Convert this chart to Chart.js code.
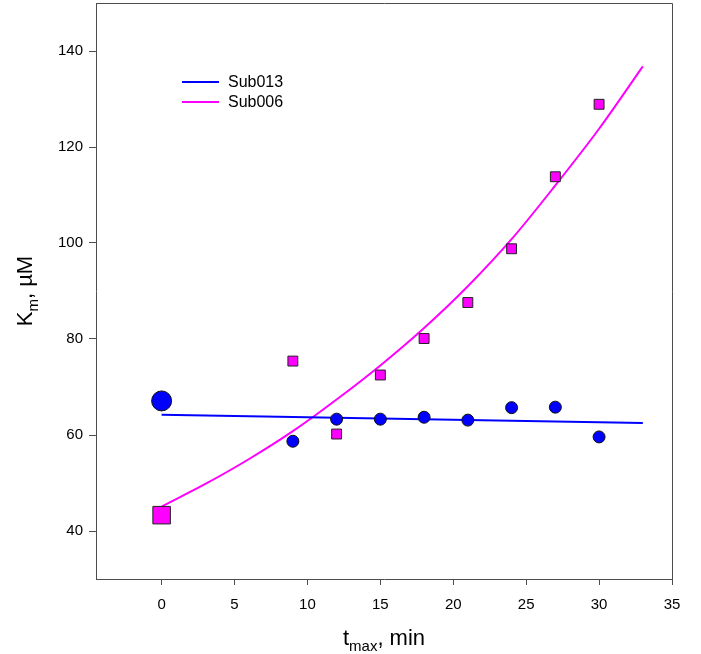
<!DOCTYPE html>
<html>
<head>
<meta charset="utf-8">
<script src="https://cdn.jsdelivr.net/npm/chart.js@4/dist/chart.umd.min.js"></script>
<style>
  html, body { margin: 0; padding: 0; background: #fff; }
  #wrap { width: 701px; height: 654px; }
</style>
</head>
<body>
<div id="wrap"><canvas id="kmChart" width="701" height="654"></canvas></div>
<script>
// Km vs t_max for two substrates, measured points plus fitted curves

const tMax = [0, 9, 12, 15, 18, 21, 24, 27, 30];
const km013 = [67.1, 58.7, 63.3, 63.3, 63.7, 63.1, 65.7, 65.8, 59.6];
const km006 = [43.3, 75.4, 60.2, 72.5, 80.1, 87.6, 98.8, 113.8, 128.9];

// fitted lines
const fitX013 = [0, 33];
const fitY013 = [64.2, 62.5];
const fitX006 = [0, 3, 6, 9, 12, 15, 18, 21, 24, 27, 30, 33];
const fitY006 = [45.1, 49.8, 55.0, 60.8, 67.4, 74.5, 82.3, 91.0, 100.8, 112.0, 123.8, 136.8];

const xTicks = [0, 5, 10, 15, 20, 25, 30, 35];
const yTicks = [40, 60, 80, 100, 120, 140];

const BLUE = "#0000ff";
const MAGENTA = "#ff00ff";
const AXIS = "#4d4d4d";
const FONT = "'Liberation Sans', Arial, sans-serif";

const pts = (xs, ys) => xs.map((x, i) => ({ x, y: ys[i] }));

// first point of each series is drawn larger
const circleSizes = tMax.map((t, i) => (i === 0 ? 10 : 6));
const squareSizes = tMax.map((t, i) => (i === 0 ? 12.4 : 7));

// frame, axis titles with subscripts, legend inside the plot
const decorations = {
  id: "decorations",
  afterDraw(chart) {
    const { ctx, chartArea: a } = chart;
    ctx.save();

    ctx.strokeStyle = AXIS;
    ctx.lineWidth = 1;
    ctx.beginPath();
    ctx.moveTo(a.left + 0.5, a.top + 0.5);
    ctx.lineTo(a.right + 0.5, a.top + 0.5);
    ctx.lineTo(a.right + 0.5, a.bottom);
    ctx.stroke();

    ctx.fillStyle = "#000";
    ctx.textBaseline = "alphabetic";

    // x title: t_max, min
    const big = "22px " + FONT, small = "15px " + FONT;
    ctx.font = big;
    const wT = ctx.measureText("t").width;
    const wRest = ctx.measureText(", min").width;
    ctx.font = small;
    const wSub = ctx.measureText("max").width;
    let x = (a.left + a.right) / 2 - (wT + wSub + wRest) / 2;
    const yb = 645;
    ctx.textAlign = "left";
    ctx.font = big;
    ctx.fillText("t", x, yb);
    x += wT;
    ctx.font = small;
    ctx.fillText("max", x, yb + 6);
    x += wSub;
    ctx.font = big;
    ctx.fillText(", min", x, yb);

    // y title: K_m, µM (rotated)
    ctx.save();
    ctx.translate(32, (a.top + a.bottom) / 2);
    ctx.rotate(-Math.PI / 2);
    ctx.font = big;
    const wK = ctx.measureText("K").width;
    const wR = ctx.measureText(", µM").width;
    ctx.font = small;
    const wM = ctx.measureText("m").width;
    let yx = -(wK + wM + wR) / 2;
    ctx.font = big;
    ctx.fillText("K", yx, 0);
    yx += wK;
    ctx.font = small;
    ctx.fillText("m", yx, 6);
    yx += wM;
    ctx.font = big;
    ctx.fillText(", µM", yx, 0);
    ctx.restore();

    // legend
    const items = [["Sub013", BLUE], ["Sub006", MAGENTA]];
    ctx.font = "16px " + FONT;
    ctx.textBaseline = "middle";
    items.forEach(([label, color], i) => {
      const ly = a.top + 79 + i * 20;
      ctx.strokeStyle = color;
      ctx.lineWidth = 2;
      ctx.beginPath();
      ctx.moveTo(a.left + 86, ly);
      ctx.lineTo(a.left + 123, ly);
      ctx.stroke();
      ctx.fillStyle = "#000";
      ctx.fillText(label, a.left + 132, ly + 1);
    });

    ctx.restore();
  }
};

new Chart(document.getElementById("kmChart"), {
  type: "scatter",
  data: {
    datasets: [
      {
        label: "Sub013",
        data: pts(tMax, km013),
        pointStyle: "circle",
        pointRadius: circleSizes,
        backgroundColor: BLUE,
        borderColor: "#111",
        borderWidth: 1,
        order: 1
      },
      {
        label: "Sub006",
        data: pts(tMax, km006),
        pointStyle: "rect",
        pointRadius: squareSizes,
        backgroundColor: MAGENTA,
        borderColor: "#222",
        borderWidth: 1,
        order: 2
      },
      {
        label: "Sub013 fit",
        data: pts(fitX013, fitY013),
        showLine: true,
        pointRadius: 0,
        borderColor: BLUE,
        borderWidth: 2,
        order: 3
      },
      {
        label: "Sub006 fit",
        data: pts(fitX006, fitY006),
        showLine: true,
        cubicInterpolationMode: "monotone",
        pointRadius: 0,
        borderColor: MAGENTA,
        borderWidth: 2,
        order: 4
      }
    ]
  },
  options: {
    responsive: false,
    animation: false,
    layout: { autoPadding: false, padding: { top: 3, right: 29, left: 0, bottom: 0 } },
    plugins: {
      legend: { display: false },
      tooltip: { enabled: false }
    },
    scales: {
      x: {
        type: "linear",
        min: -4.5,
        max: 35,
        afterBuildTicks: (s) => { s.ticks = xTicks.map(v => ({ value: v })); },
        afterFit: (s) => { s.height = 75; s.paddingLeft = 0; s.paddingRight = 0; },
        grid: { drawOnChartArea: false, tickLength: 6, tickColor: AXIS },
        border: { color: AXIS, width: 1 },
        ticks: { color: "#000", font: { family: FONT, size: 15 }, padding: 11, maxRotation: 0 }
      },
      y: {
        min: 30,
        max: 150,
        afterBuildTicks: (s) => { s.ticks = yTicks.map(v => ({ value: v })); },
        afterFit: (s) => { s.width = 96; s.paddingTop = 0; s.paddingBottom = 0; },
        grid: { drawOnChartArea: false, tickLength: 7, tickColor: AXIS },
        border: { color: AXIS, width: 1 },
        ticks: { color: "#000", font: { family: FONT, size: 15 }, padding: 6 }
      }
    }
  },
  plugins: [decorations]
});
</script>
</body>
</html>
